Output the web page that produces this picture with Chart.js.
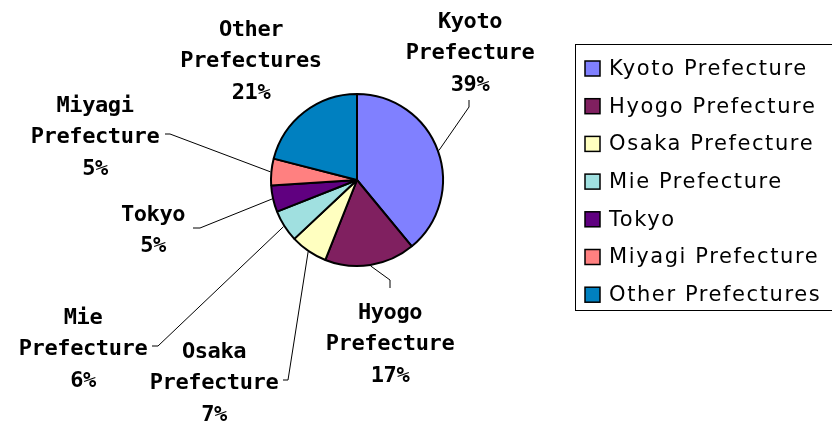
<!DOCTYPE html>
<html>
<head>
<meta charset="utf-8">
<script src="https://cdn.jsdelivr.net/npm/chart.js@4/dist/chart.umd.min.js"></script>
<style>
  html, body { margin: 0; padding: 0; background: #fff; }
  #wrap { width: 832px; height: 422px; }
</style>
</head>
<body>
<div id="wrap"><canvas id="chart"></canvas></div>
<script>
const categories = ['Kyoto Prefecture', 'Hyogo Prefecture', 'Osaka Prefecture', 'Mie Prefecture', 'Tokyo', 'Miyagi Prefecture', 'Other Prefectures'];
const shares = [39, 17, 7, 6, 5, 5, 21];
const sliceColors = ['#8080FF', '#802060', '#FFFFC0', '#A0E0E0', '#600080', '#FF8080', '#0080C0'];

// label placement, relative to the pie centre (text = centre of first line)
const labelLayout = [
    { text: [113, -158], knee: [112, -73], end: [112, -80] },
    { text: [33, 133], knee: [33, 100], end: [33, 108] },
    { text: [-143, 172], knee: [-69, 200], end: [-74, 200] },
    { text: [-274, 138], knee: [-199, 166], end: [-205, 166] },
    { text: [-204, 35], knee: [-157, 48], end: [-164, 48] },
    { text: [-262, -74], knee: [-187, -46], end: [-192, -46] },
    { text: [-106, -150] },
];

const pieLabelsPlugin = {
    id: 'pieLabels',
    afterDatasetsDraw(chart) {
        const ctx = chart.ctx;
        const arcs = chart.getDatasetMeta(0).data;
        ctx.save();
        arcs.forEach((arc, i) => {
            const {x, y, startAngle, endAngle, outerRadius} = arc.getProps(['x', 'y', 'startAngle', 'endAngle', 'outerRadius'], true);
            const lay = labelLayout[i];
            const mid = (startAngle + endAngle) / 2;
            if (lay.knee) {
                ctx.strokeStyle = '#000';
                ctx.lineWidth = 1;
                ctx.beginPath();
                ctx.moveTo(x + Math.cos(mid) * (outerRadius + 1), y + Math.sin(mid) * (outerRadius + 1));
                ctx.lineTo(x + lay.knee[0], y + lay.knee[1]);
                ctx.lineTo(x + lay.end[0], y + lay.end[1]);
                ctx.stroke();
            }
            const lines = categories[i].split(' ').concat([shares[i] + '%']);
            ctx.fillStyle = '#000';
            ctx.font = 'bold 22px "DejaVu Sans Mono"';
            ctx.letterSpacing = '-0.4px';
            ctx.textAlign = 'center';
            ctx.textBaseline = 'middle';
            lines.forEach((line, j) => {
                ctx.fillText(line, x + lay.text[0], y + lay.text[1] + j * 31.5);
            });
        });
        ctx.restore();
    }
};

const boxLegendPlugin = {
    id: 'boxLegend',
    afterDraw(chart) {
        const ctx = chart.ctx;
        ctx.save();
        ctx.strokeStyle = '#000';
        ctx.lineWidth = 1;
        ctx.strokeRect(575.5, 44.5, 270, 266);
        ctx.font = '21px "DejaVu Sans"';
        ctx.letterSpacing = '1.6px';
        ctx.textAlign = 'left';
        ctx.textBaseline = 'middle';
        categories.forEach((name, i) => {
            const cy = 68.5 + i * 37.7;
            ctx.fillStyle = sliceColors[i];
            ctx.fillRect(585, cy - 7.5, 15, 15);
            ctx.lineWidth = 1.5;
            ctx.strokeRect(585, cy - 7.5, 15, 15);
            ctx.fillStyle = '#000';
            ctx.fillText(name, 609, cy + 1);
        });
        ctx.restore();
    }
};

new Chart(document.getElementById('chart'), {
    type: 'pie',
    data: {
        labels: categories,
        datasets: [{
            data: shares,
            backgroundColor: sliceColors,
            borderColor: '#000',
            borderWidth: 2,
        }],
    },
    options: {
        responsive: true,
        maintainAspectRatio: false,
        animation: false,
        radius: 86,
        layout: {
            padding: {left: 0, right: 118, top: 0, bottom: 62},
        },
        plugins: {
            legend: {display: false},
            tooltip: {enabled: false},
        },
    },
    plugins: [pieLabelsPlugin, boxLegendPlugin],
});
</script>
</body>
</html>
